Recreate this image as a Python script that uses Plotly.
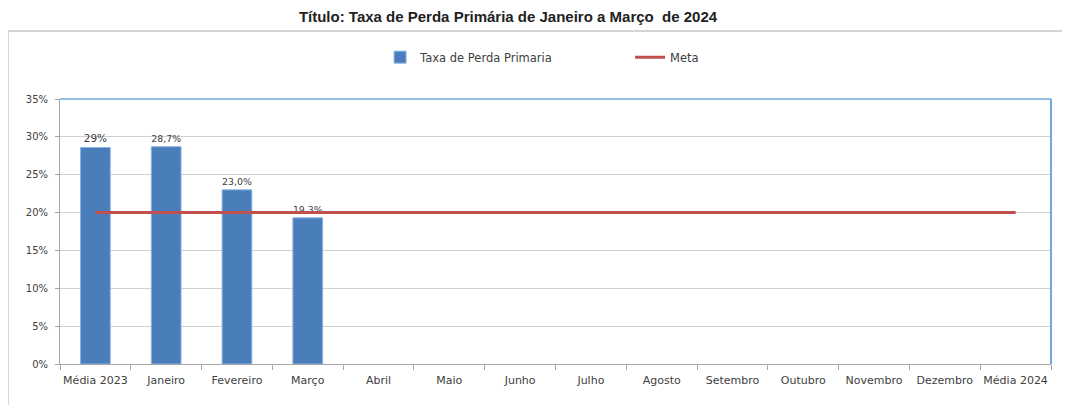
import plotly.graph_objects as go

categories = ["Média 2023", "Janeiro", "Fevereiro", "Março", "Abril", "Maio", "Junho",
              "Julho", "Agosto", "Setembro", "Outubro", "Novembro", "Dezembro", "Média 2024"]
taxa_values = [0.286, 0.287, 0.230, 0.193, None, None, None, None, None, None, None, None, None, None]
taxa_labels = ["29%", "28,7%", "23,0%", "19,3%", "", "", "", "", "", "", "", "", "", ""]
meta_values = [0.20] * 14
y_ticks = [0, 0.05, 0.10, 0.15, 0.20, 0.25, 0.30, 0.35]
y_tick_labels = ["0%", "5%", "10%", "15%", "20%", "25%", "30%", "35%"]

FONT = "DejaVu Sans"
TXT = "#404040"
W, H = 1062, 397

fig = go.Figure()
fig.add_trace(go.Bar(
    x=categories, y=taxa_values, name="Taxa de Perda Primaria",
    marker=dict(color="#4a7ebb", line=dict(color="#8db3e2", width=1)),
    width=0.42,
    text=taxa_labels, textposition="outside", cliponaxis=False,
    textfont=dict(family=FONT, size=10.5, color=TXT),
))
fig.add_trace(go.Scatter(
    x=categories, y=meta_values, name="Meta", mode="lines",
    line=dict(color="#c0504d", width=3),
))

fig.update_layout(
    width=W, height=H,
    margin=dict(l=52, r=19, t=91, b=41),
    paper_bgcolor="white", plot_bgcolor="white",
    font=dict(family=FONT, size=10, color=TXT),
    title=dict(text="<b>Título: Taxa de Perda Primária de Janeiro a Março  de 2024</b>",
               x=500 / W, xref="container", xanchor="center",
               y=1 - 9 / H, yref="container", yanchor="middle",
               font=dict(family="Liberation Sans", size=15, color="#222222")),
    legend=dict(orientation="h", x=0.323, xanchor="left", y=1.158, yanchor="middle",
                font=dict(family=FONT, size=11.5, color=TXT),
                entrywidth=205, bgcolor="rgba(0,0,0,0)", traceorder="normal"),
    showlegend=True,
)
fig.update_xaxes(
    type="category", showgrid=False, showline=True, linecolor="#a6a6a6", linewidth=1,
    ticks="outside", tickson="boundaries", ticklen=5, tickcolor="#a6a6a6",
    tickangle=0, automargin=False, ticklabelstandoff=6,
    tickfont=dict(family=FONT, size=11, color=TXT), zeroline=False,
)
fig.update_yaxes(
    range=[0, 0.35], tickvals=y_ticks, ticktext=y_tick_labels,
    showgrid=True, gridcolor="#d0d0d0", gridwidth=1,
    showline=True, linecolor="#a6a6a6", linewidth=1,
    ticks="outside", ticklen=4, tickcolor="#a6a6a6", automargin=False,
    ticklabelstandoff=5,
    tickfont=dict(family=FONT, size=10, color=TXT), zeroline=False,
)

# plot-area border (top & right in blue)
fig.add_shape(type="line", xref="paper", yref="paper", x0=0, x1=1, y0=1, y1=1,
              line=dict(color="#6fa8dc", width=1.5))
fig.add_shape(type="line", xref="paper", yref="paper", x0=1, x1=1, y0=0, y1=1,
              line=dict(color="#6fa8dc", width=2))
# outer chart frame
fig.add_shape(type="rect", xref="paper", yref="paper", x0=-0.0525, x1=1.05, y0=-0.3, y1=1.2566,
              line=dict(color="#c8c8c8", width=1.5), layer="below")

fig.write_html("out.html")
